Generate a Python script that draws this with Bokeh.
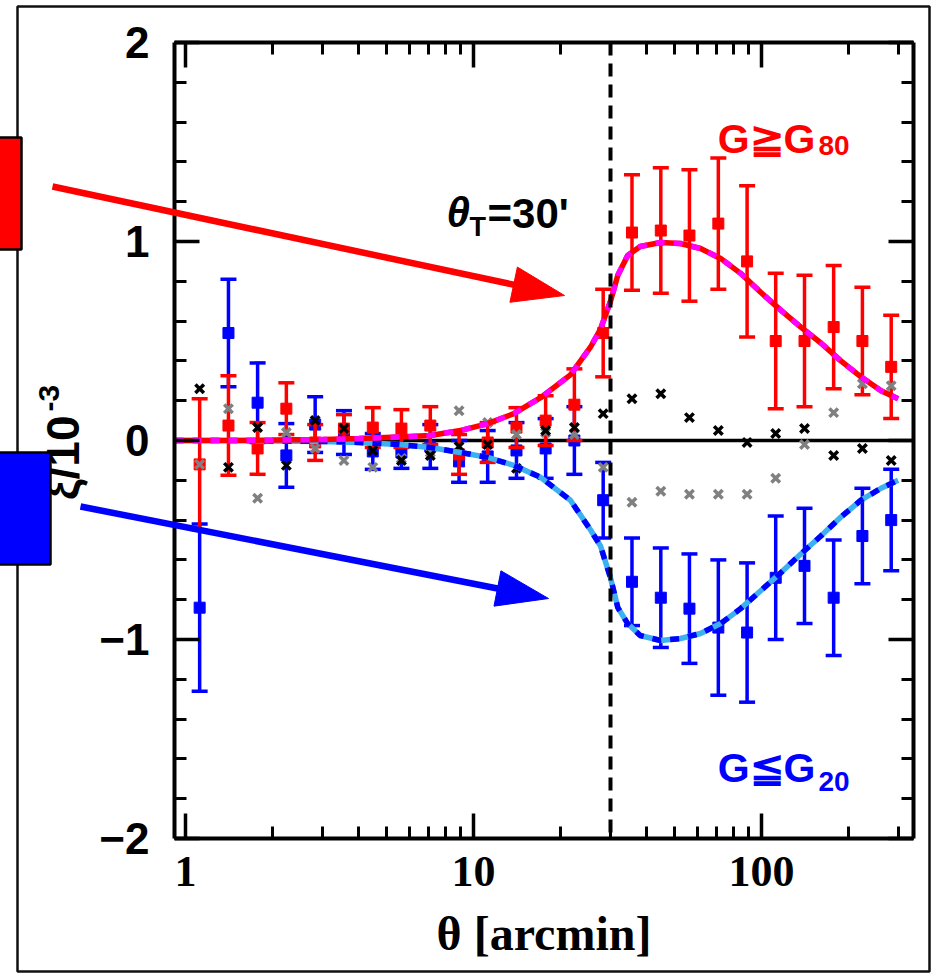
import numpy as np
from bokeh.plotting import figure
from bokeh.core.properties import value
from bokeh.models import (LogAxis, LinearAxis, LogTicker, SingleIntervalTicker,
                          PrintfTickFormatter, Label)
from bokeh.embed import file_html
from bokeh.resources import INLINE

# angular bins [arcmin]
theta = [1.12, 1.41, 1.78, 2.24, 2.82, 3.55, 4.47, 5.62, 7.08, 8.91, 11.2, 14.1, 17.8,
         22.4, 28.2, 35.5, 44.7, 56.2, 70.8, 89.1, 112, 141, 178, 224, 282]

# high-G sample (G >= G80)
red_y = [-0.12, 0.075, -0.04, 0.16, -0.01, 0.06, 0.065, 0.06, 0.075, -0.07, -0.01, 0.065, 0.10,
         0.18, 0.54, 1.045, 1.055, 1.03, 1.09, 0.90, 0.50, 0.50, 0.57, 0.50, 0.37]
red_err = [0.33, 0.25, 0.13, 0.13, 0.09, 0.07, 0.10, 0.095, 0.095, 0.10, 0.10, 0.10, 0.125,
           0.18, 0.22, 0.29, 0.315, 0.33, 0.33, 0.38, 0.34, 0.33, 0.31, 0.27, 0.26]

# low-G sample (G <= G20)
blue_y = [-0.84, 0.54, 0.19, -0.075, 0.08, 0.04, -0.055, -0.06, -0.03, -0.105, -0.08, -0.05, -0.04,
          0.0, -0.30, -0.71, -0.79, -0.845, -0.94, -0.965, -0.69, -0.63, -0.79, -0.48, -0.40]
blue_err = [0.42, 0.27, 0.20, 0.16, 0.14, 0.11, 0.09, 0.08, 0.11, 0.105, 0.13, 0.14, 0.15,
            0.17, 0.19, 0.22, 0.25, 0.275, 0.34, 0.35, 0.31, 0.29, 0.29, 0.24, 0.255]

# cross-component / null-test values
black_y = [0.26, -0.135, 0.065, -0.125, 0.10, 0.06, -0.05, -0.10, -0.075, -0.03, -0.02, -0.14, 0.05,
           0.065, 0.135, 0.21, 0.235, 0.115, 0.05, -0.01, 0.035, 0.06, -0.075, -0.04, -0.10]
gray_y = [-0.12, 0.16, -0.29, 0.04, -0.04, -0.10, -0.135, -0.09, -0.06, 0.15, 0.09, 0.03, 0.04,
          0.03, -0.135, -0.31, -0.255, -0.27, -0.27, -0.27, -0.19, -0.02, 0.14, 0.285, 0.275]

# model curves
curve_theta = [0.916, 1.5, 2.0, 3.0, 4.0, 5.5, 7.09, 9.0, 11.2, 13.8, 17.1, 21.7, 25.5, 27.6, 29.9,
               31.7, 34.3, 37.9, 44.6, 52.3, 61.4, 72.1, 84.6, 99.3, 116.6, 136.9, 160.7, 188.6,
               221.4, 260, 298]
red_model = [0.0, 0.0, 0.002, 0.005, 0.01, 0.017, 0.025, 0.05, 0.085, 0.135, 0.215, 0.33, 0.47, 0.56,
             0.70, 0.83, 0.93, 0.975, 0.995, 0.99, 0.965, 0.915, 0.84, 0.745, 0.655, 0.57, 0.49,
             0.40, 0.32, 0.25, 0.21]
blue_model = [0.0, 0.0, -0.002, -0.005, -0.01, -0.02, -0.035, -0.06, -0.085, -0.125, -0.185, -0.30,
              -0.45, -0.53, -0.69, -0.84, -0.92, -0.98, -1.005, -0.995, -0.97, -0.92, -0.845,
              -0.755, -0.665, -0.57, -0.48, -0.385, -0.30, -0.24, -0.20]

theta_t = 30
y_ticks = [-2, -1, 0, 1, 2]
y_tick_labels = ["\u22122", "\u22121", "0", "1", "2"]

W, H = 938, 976
SANS = "Liberation Sans"
SERIF = "Liberation Serif"
RED, BLUE, MAGENTA, SKY, GRAY = "#ff0000", "#0000ff", "#ff00ff", "#3cb0f0", "#808080"

# plot frame in canvas pixels and its data ranges
FX0, FX1, FY0, FY1 = 174, 913, 42, 838
X_LO, X_HI, Y_LO, Y_HI = 0.916, 337.0, -2.0, 2.0


def px_x(px):
    lo, hi = np.log10(X_LO), np.log10(X_HI)
    return 10 ** (lo + (px - FX0) / (FX1 - FX0) * (hi - lo))


def px_y(py):
    return Y_HI - (py - FY0) / (FY1 - FY0) * (Y_HI - Y_LO)


p = figure(width=W, height=H, x_axis_type="log", x_range=(X_LO, X_HI), y_range=(Y_LO, Y_HI),
           output_backend="svg", toolbar_location=None,
           min_border_left=FX0, min_border_right=W - FX1, min_border_top=FY0,
           min_border_bottom=H - FY1)
p.grid.visible = False
p.outline_line_color = None
p.background_fill_color = "white"
p.border_fill_color = "white"

xt = LogTicker(num_minor_ticks=10)
yt = SingleIntervalTicker(interval=1, num_minor_ticks=5)


def style_axis(ax, show_labels):
    ax.axis_line_width = 4
    ax.axis_line_color = "black"
    ax.major_tick_in = 25
    ax.major_tick_out = 0
    ax.minor_tick_in = 12
    ax.minor_tick_out = 0
    ax.major_tick_line_width = 3.5
    ax.minor_tick_line_width = 3
    ax.major_tick_line_color = "black"
    ax.minor_tick_line_color = "black"
    ax.major_label_text_color = "black"
    if not show_labels:
        ax.major_label_text_font_size = "6px"
        ax.major_label_text_color = None
        ax.major_label_standoff = 0


xa = p.xaxis[0]
xa.ticker = xt
xa.formatter = PrintfTickFormatter(format="%d")
style_axis(xa, True)
xa.major_label_text_font = SERIF
xa.major_label_text_font_style = "bold"
xa.major_label_text_font_size = "44px"
xa.major_label_standoff = 18
xa.axis_label = "\u03b8 [arcmin]"
xa.axis_label_text_font = SERIF
xa.axis_label_text_font_style = "bold"
xa.axis_label_text_font_size = "48px"
xa.axis_label_text_color = "black"
xa.axis_label_standoff = 18

ya = p.yaxis[0]
ya.ticker = yt
ya.major_label_overrides = dict(zip(y_ticks, y_tick_labels))
style_axis(ya, True)
ya.major_label_text_font = SANS
ya.major_label_text_font_style = "bold"
ya.major_label_text_font_size = "44px"
ya.major_label_standoff = 25

top_ax = LogAxis(ticker=xt)
style_axis(top_ax, False)
p.add_layout(top_ax, "above")
right_ax = LinearAxis(ticker=yt)
style_axis(right_ax, False)
p.add_layout(right_ax, "right")

# zero line
p.hspan(y=[0], line_color="black", line_width=3.5)

# error bars and points
lo_b = np.array(blue_y) - np.array(blue_err)
hi_b = np.array(blue_y) + np.array(blue_err)
lo_r = np.array(red_y) - np.array(red_err)
hi_r = np.array(red_y) + np.array(red_err)

for yv, lo, hi, col in ((blue_y, lo_b, hi_b, BLUE), (red_y, lo_r, hi_r, RED)):
    p.segment(x0=theta, y0=lo, x1=theta, y1=hi, line_color=col, line_width=3.5)
    p.scatter(theta, lo, marker="dash", size=16, line_color=col, line_width=3.5)
    p.scatter(theta, hi, marker="dash", size=16, line_color=col, line_width=3.5)
    p.scatter(theta, yv, marker="square", size=11, fill_color=col, line_color=col)

p.scatter(theta, gray_y, marker="x", size=12, line_color=GRAY, line_width=3.5)
p.scatter(theta, black_y, marker="x", size=12, line_color="black", line_width=3.5)

# model curves
p.line(curve_theta, blue_model, line_color=SKY, line_width=5.5)
p.line(curve_theta, blue_model, line_color=BLUE, line_width=5.5, line_dash="9 9")
p.line(curve_theta, red_model, line_color=RED, line_width=5.5)
p.line(curve_theta, red_model, line_color=MAGENTA, line_width=5.5, line_dash="9 9")

# transition scale
p.vspan(x=[theta_t], line_color="black", line_width=4, line_dash="13 8")


def lab(text, x, y, size, color="black", style="bold", align="left"):
    p.add_layout(Label(x=x, y=y, x_units="canvas", y_units="canvas", text=text,
                       text_font=SANS, text_font_size=size, text_font_style=style,
                       text_color=color, text_align=align, text_baseline="alphabetic"))


# annotations inside the frame
lab("\u03b8", 446, 212, "42px", style="bold italic")
lab("T", 469, 226, "27px")
lab("=30'", 487, 213, "42px")

lab("G\u2267G", 815, 138, "41px", color=RED, align="right")
lab("80", 818, 145, "28px", color=RED)
lab("G\u2266G", 815, 767, "41px", color=BLUE, align="right")
lab("20", 818, 781, "28px", color=BLUE)

# ---- decorations that extend past the frame (drawn on the overlay level) ----
OV = dict(level="overlay")

# outer border
p.quad(left=[px_x(17)], right=[px_x(929)], top=[px_y(6)], bottom=[px_y(971)],
       fill_color=None, line_color="#111111", line_width=2.5, **OV)

# y-axis title, partly hidden by the blue key box
p.text(x=[px_x(62)], y=[px_y(415)], text=["\u03be/10"], angle=np.pi / 2,
       text_align="right", text_baseline="alphabetic", text_font=value(SANS),
       text_font_style="bold", text_font_size="46px", text_color="black", **OV)
p.text(x=[px_x(48)], y=[px_y(411)], text=["-3"], angle=np.pi / 2,
       text_align="left", text_baseline="alphabetic", text_font=value(SANS),
       text_font_style="bold", text_font_size="30px", text_color="black", **OV)

# coloured key boxes
p.quad(left=[px_x(-5)], right=[px_x(21)], top=[px_y(137)], bottom=[px_y(249)],
       fill_color=RED, line_color="black", line_width=2.5, **OV)
p.quad(left=[px_x(-5)], right=[px_x(50)], top=[px_y(452)], bottom=[px_y(564)],
       fill_color=BLUE, line_color="black", line_width=2.5, **OV)


def arrow(x0, y0, x1, y1, color, head_len=52, head_w=36, width=6.5):
    d = np.array([x1 - x0, y1 - y0], dtype=float)
    d /= np.hypot(*d)
    n = np.array([-d[1], d[0]])
    base = np.array([x1, y1]) - head_len * d
    shaft_end = base + 4 * d
    p.segment(x0=[px_x(x0)], y0=[px_y(y0)], x1=[px_x(shaft_end[0])], y1=[px_y(shaft_end[1])],
              line_color=color, line_width=width, **OV)
    c1 = base + n * head_w / 2
    c2 = base - n * head_w / 2
    p.patch(x=[px_x(x1), px_x(c1[0]), px_x(c2[0])], y=[px_y(y1), px_y(c1[1]), px_y(c2[1])],
            fill_color=color, line_color=color, line_width=1, **OV)


arrow(52, 186, 564, 295, RED)
arrow(80, 506, 548, 598, BLUE)

open("out.html", "w").write(file_html(p, INLINE))
